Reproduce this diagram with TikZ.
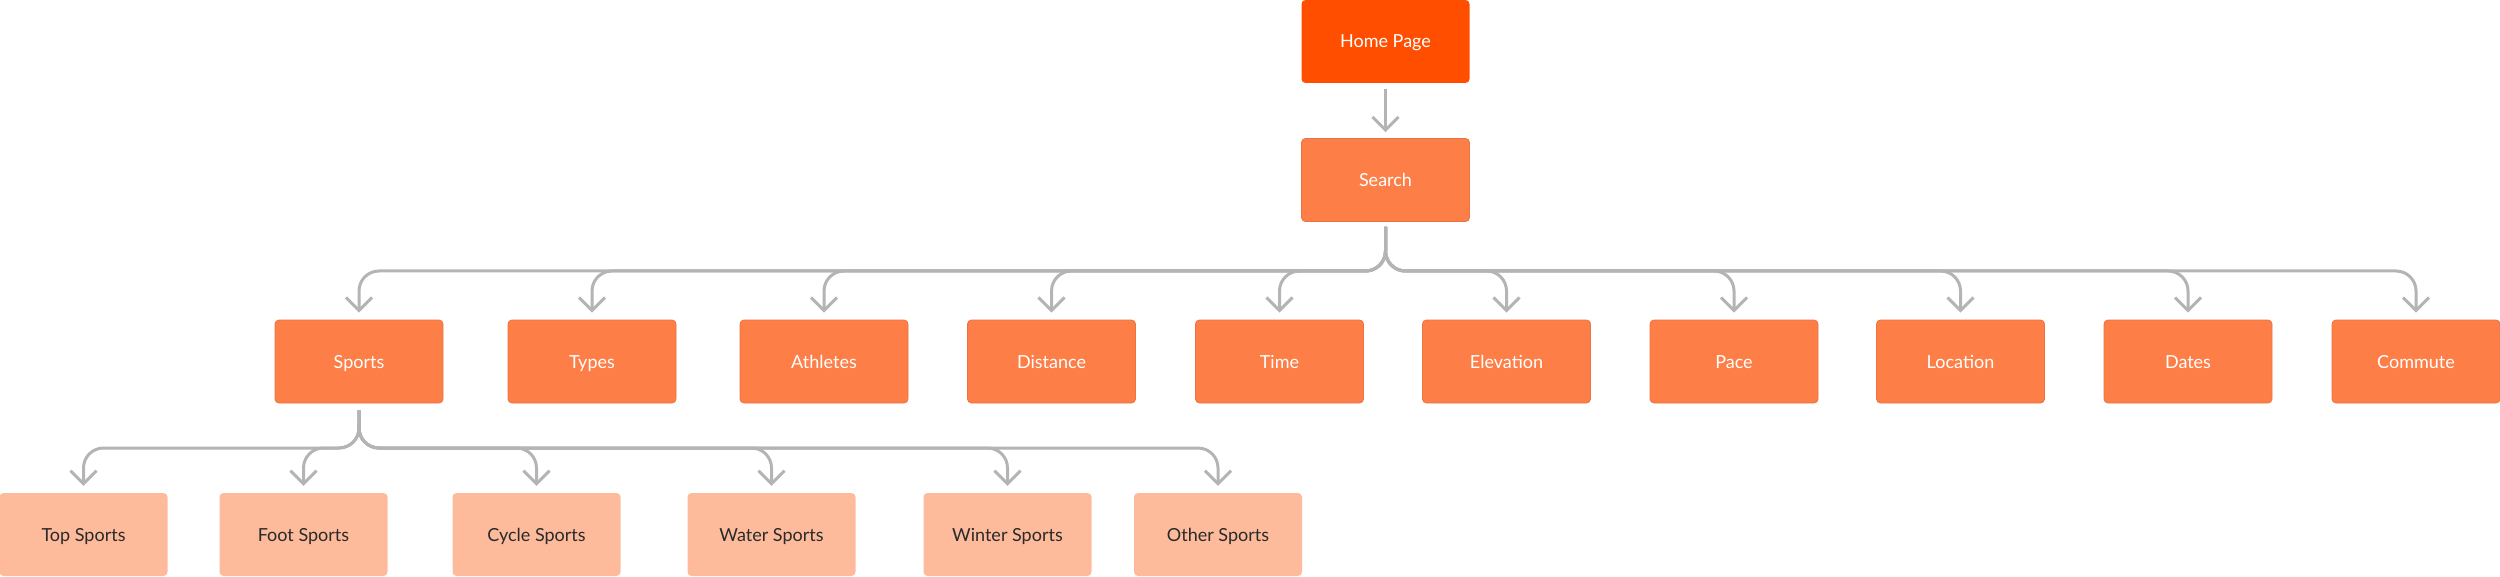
\documentclass[tikz,border=0pt]{standalone}
\usepackage{fontspec}
\setmainfont{Lato}
\usetikzlibrary{arrows.meta}
\definecolor{homec}{HTML}{FF4E00}
\definecolor{midc}{HTML}{FD7E47}
\definecolor{lowc}{HTML}{FDBB9C}
\definecolor{linec}{HTML}{B4B4B4}
\definecolor{textdark}{HTML}{2A2A2A}
\begin{document}
\begin{tikzpicture}[x=1pt,y=-1pt,
  box/.style={minimum width=168pt,minimum height=83pt,inner sep=0pt,text height=13pt,text depth=0pt,rounded corners=4pt,font=\fontsize{18}{20}\selectfont},
  homebox/.style={box,fill=homec,text=white},
  midbox/.style={box,fill=midc,draw=midc!92!black,line width=0.8pt,text=white},
  lowbox/.style={box,fill=lowc,text=textdark},
  conn/.style={draw=linec,line width=3pt,rounded corners=20pt,-{Straight Barb[length=13pt,width=26pt]}}]
\useasboundingbox (0,0) rectangle (2500,577);
\coordinate (busA) at (0,271);
\coordinate (busB) at (0,448);
\node[homebox] (home) at (1385.5,41.5) {Home Page};
\node[midbox] (search) at (1385.5,180) {Search};
\node[midbox] (sports) at (359,361.5) {Sports};
\node[midbox] (types) at (592,361.5) {Types};
\node[midbox] (athletes) at (824,361.5) {Athletes};
\node[midbox] (distance) at (1051.5,361.5) {Distance};
\node[midbox] (time) at (1279.5,361.5) {Time};
\node[midbox] (elevation) at (1506.5,361.5) {Elevation};
\node[midbox] (pace) at (1734,361.5) {Pace};
\node[midbox] (location) at (1960.5,361.5) {Location};
\node[midbox] (dates) at (2188,361.5) {Dates};
\node[midbox] (commute) at (2416,361.5) {Commute};
\node[lowbox] (topsp) at (83.5,534.5) {Top Sports};
\node[lowbox] (footsp) at (303.5,534.5) {Foot Sports};
\node[lowbox] (cyclesp) at (536.5,534.5) {Cycle Sports};
\node[lowbox] (watersp) at (771.5,534.5) {Water Sports};
\node[lowbox] (wintersp) at (1007.5,534.5) {Winter Sports};
\node[lowbox] (othersp) at (1218,534.5) {Other Sports};
\draw[conn,shorten <=6pt,shorten >=6pt] (home) -- (search);
\foreach \c in {sports,types,athletes,distance,time,elevation,pace,location,dates,commute}{
  \draw[conn,shorten <=5pt,shorten >=7pt] (search.south) -- (search.south |- busA) -- (\c.north |- busA) -- (\c.north);
}
\foreach \c in {topsp,footsp,cyclesp,watersp,wintersp,othersp}{
  \draw[conn,shorten <=7pt,shorten >=7pt] (sports.south) -- (sports.south |- busB) -- (\c.north |- busB) -- (\c.north);
}
\end{tikzpicture}
\end{document}
